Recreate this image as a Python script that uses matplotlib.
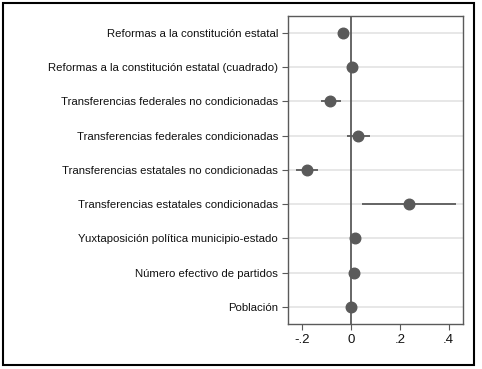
import matplotlib
matplotlib.use('Agg')
import matplotlib.pyplot as plt
from matplotlib.patches import Rectangle

plt.rcParams['font.family'] = ['Liberation Sans', 'DejaVu Sans']

# Variables y coeficientes
etiquetas = [
    'Reformas a la constitución estatal',
    'Reformas a la constitución estatal (cuadrado)',
    'Transferencias federales no condicionadas',
    'Transferencias federales condicionadas',
    'Transferencias estatales no condicionadas',
    'Transferencias estatales condicionadas',
    'Yuxtaposición política municipio-estado',
    'Número efectivo de partidos',
    'Población',
]
coef = [-0.033, 0.004, -0.086, 0.029, -0.180, 0.237, 0.016, 0.012, 0.000]
ic_bajo = [-0.040, 0.002, -0.122, -0.016, -0.224, 0.045, 0.010, 0.008, -0.002]
ic_alto = [-0.026, 0.006, -0.041, 0.078, -0.135, 0.429, 0.022, 0.016, 0.002]
xticks = [-0.2, 0, 0.2, 0.4]
xtick_labels = ['-.2', '0', '.2', '.4']

fig = plt.figure(figsize=(4.82, 3.69), dpi=100)
ax = fig.add_axes([0.597, 0.122, 0.364, 0.835])

gris = '#5a5a5a'
pos = list(range(len(etiquetas)))

# lineas de cuadricula horizontales
for p in pos:
    ax.axhline(p, color='#e3e3e3', lw=1.2, zorder=0)

# linea vertical en cero
ax.axvline(0, color=gris, lw=1.3, zorder=1)

# intervalos de confianza
ax.hlines(pos, ic_bajo, ic_alto, color=gris, lw=1.3, zorder=2)
ax.plot(coef, pos, 'o', color=gris, markersize=7.6, zorder=3)

ax.set_xlim(-0.259, 0.46)
ax.set_ylim(len(etiquetas) - 0.5, -0.5)
ax.set_yticks(pos)
ax.set_yticklabels(etiquetas, fontsize=8.2, color='#111111')
ax.set_xticks(xticks)
ax.set_xticklabels(xtick_labels, fontsize=9.5, color='#111111')
ax.tick_params(axis='both', direction='out', length=4, width=0.8, color=gris, pad=3)
ax.tick_params(axis='x', pad=3)

for s in ax.spines.values():
    s.set_color(gris)
    s.set_linewidth(1.0)

# marco exterior
fig.patches.append(Rectangle((3 / 482, 1 - 365 / 369), 471 / 482, 362 / 369,
                             transform=fig.transFigure, fill=False,
                             edgecolor='black', lw=1.5))

fig.savefig('out.png', dpi=100)
